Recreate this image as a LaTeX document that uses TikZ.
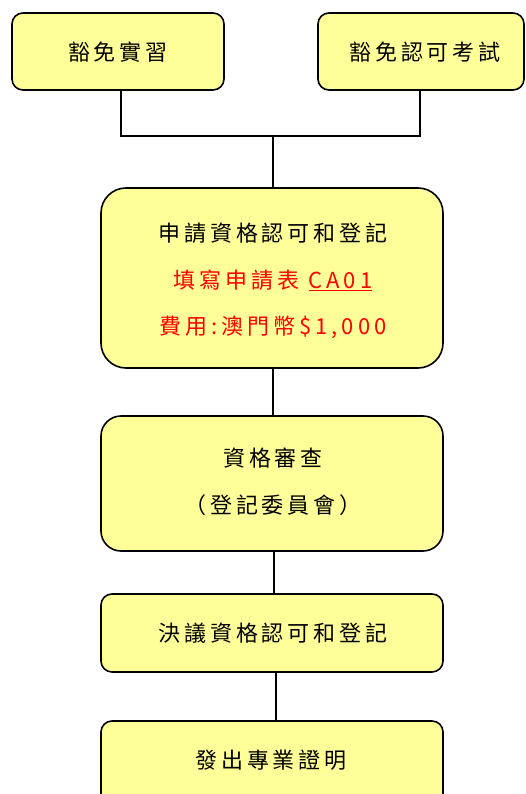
\documentclass[tikz,border=0pt]{standalone}
\usepackage{fontspec}
\setmainfont{Noto Sans CJK TC}[LetterSpace=18]
\begin{document}
\begin{tikzpicture}[x=1pt,y=-1pt,
  box/.style={draw=black,line width=1.6pt,fill=boxyellow},
  lbl/.style={font=\fontsize{22}{26}\selectfont,text=black,inner sep=0pt},
  redlbl/.style={lbl,text=red},
  conn/.style={draw=black,line width=1.6pt}]
\definecolor{boxyellow}{HTML}{FFFF99}
\clip (0,0) rectangle (525,794);
\useasboundingbox (0,0) rectangle (525,794);
% boxes
\draw[box,rounded corners=11pt] (12,13) rectangle (224,90);
\draw[box,rounded corners=11pt] (318,13) rectangle (524,90);
\draw[box,rounded corners=25pt] (101,188) rectangle (443,368);
\draw[box,rounded corners=20pt] (101,416) rectangle (443,551);
\draw[box,rounded corners=11pt] (101,594) rectangle (443,672);
\draw[box,rounded corners=11pt] (101,721) rectangle (443,810);
% named anchors
\coordinate (b1) at (121,90);
\coordinate (b2) at (420,90);
\coordinate (j1) at (121,136);
\coordinate (j2) at (420,136);
\coordinate (jm) at (273,136);
\coordinate (b3t) at (273,188);
\coordinate (b3b) at (273,368);
\coordinate (b4t) at (273,416);
\coordinate (b4b) at (274,551);
\coordinate (b5t) at (274,594);
\coordinate (b5b) at (276,672);
\coordinate (b6t) at (276,721);
% connectors
\draw[conn] (b1) -- (j1) -- (j2) -- (b2);
\draw[conn] (jm) -- (b3t);
\draw[conn] (b3b) -- (b4t);
\draw[conn] (b4b) -- (b5t);
\draw[conn] (b5b) -- (b6t);
% texts
\node[lbl] (t1) at (118,52) {豁免實習};
\node[lbl] (t2) at (425,52) {豁免認可考試};
\node[lbl] (t3a) at (273,233) {申請資格認可和登記};
\node[redlbl] (t3b) at (273,280) {填寫申請表 \underline{CA01}};
\node[redlbl] (t3c) at (273,327) {費用:澳門幣\$1,000};
\node[lbl] (t4a) at (273,458) {資格審查};
\node[lbl] (t4b) at (273,505) {（登記委員會）};
\node[lbl] (t5) at (273,633) {決議資格認可和登記};
\node[lbl] (t6) at (271,760) {發出專業證明};
\end{tikzpicture}
\end{document}
